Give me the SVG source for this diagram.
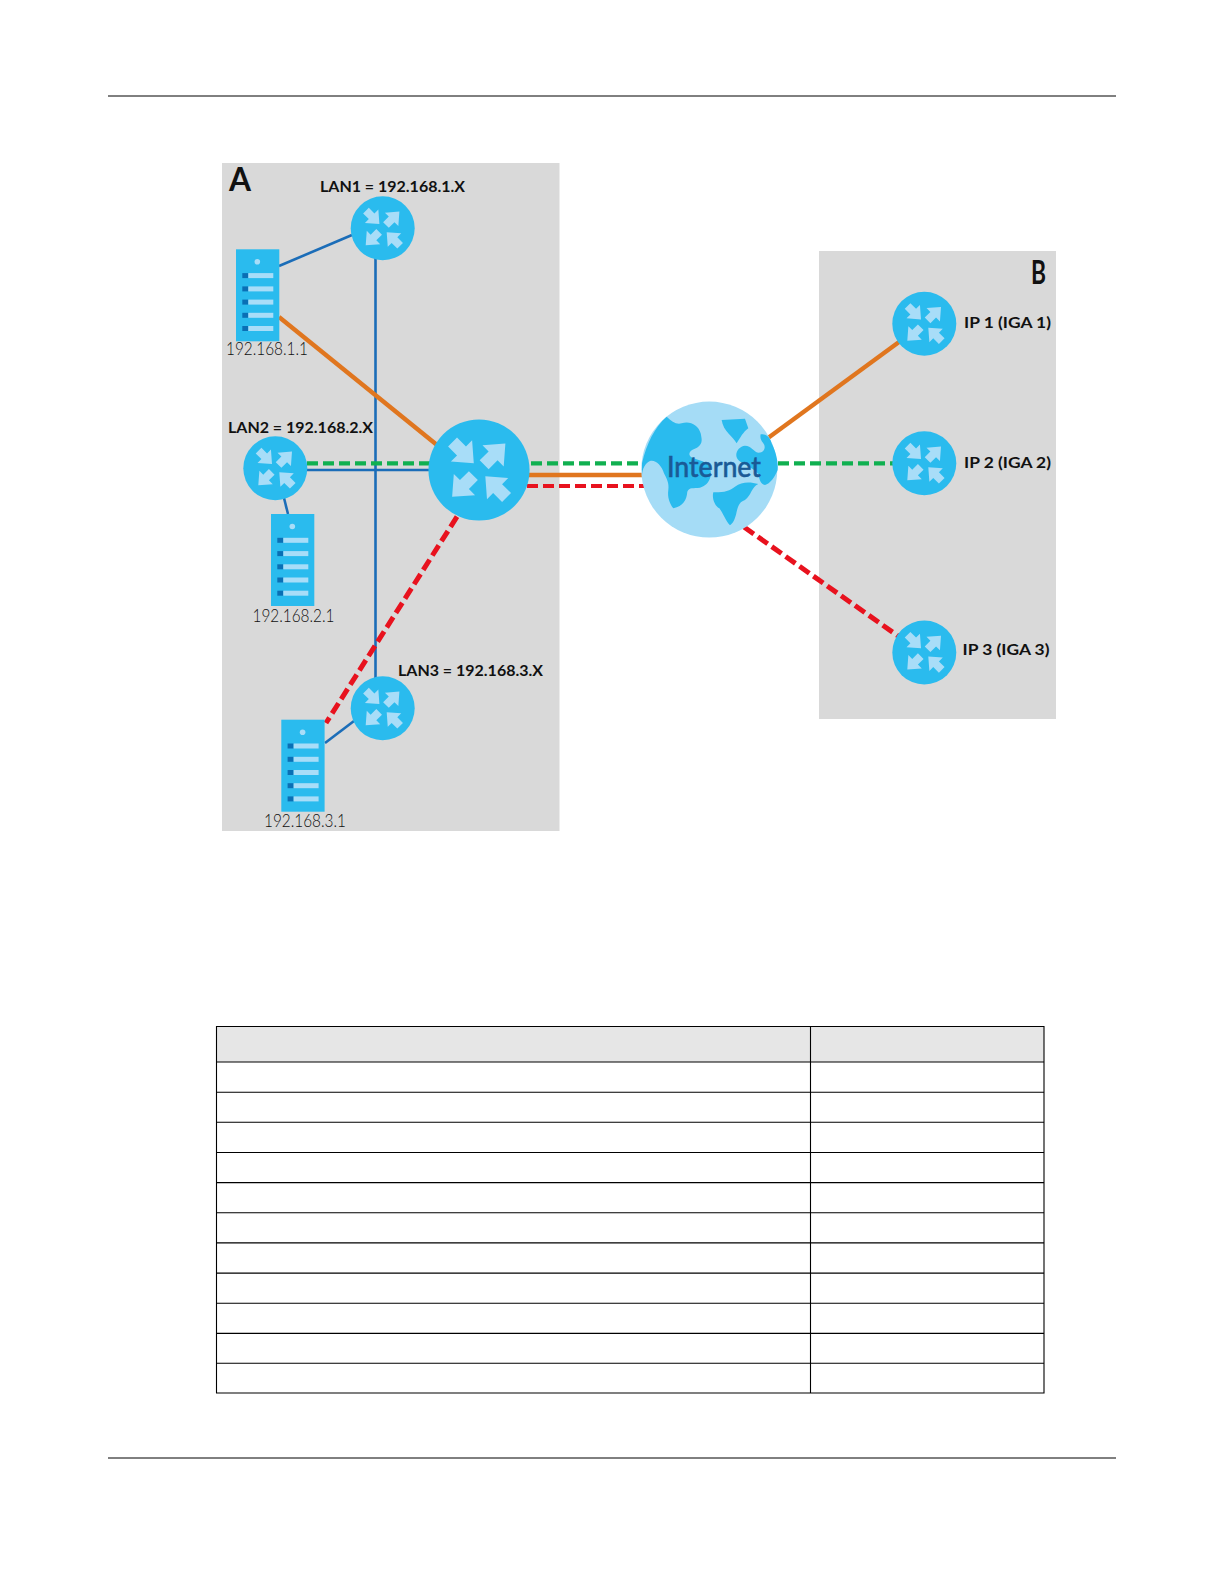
<svg xmlns="http://www.w3.org/2000/svg" xmlns:xlink="http://www.w3.org/1999/xlink" width="1224" height="1584" viewBox="0 0 1224 1584">
<style>
.panel{fill:#d9d9d9}
.rule{stroke:#000;stroke-width:1;fill:none}
.tb{stroke:#000;stroke-width:1.1;fill:none}
.blue{stroke:#1b6db8;stroke-width:2.6;fill:none}
.orange{stroke:#e0761f;stroke-width:4.4;fill:none}
.green{stroke:#10b050;stroke-width:4.2;stroke-dasharray:11 5;fill:none}
.red{stroke:#e8121e;stroke-width:4.2;stroke-dasharray:11 5;fill:none}
.redd{stroke:#e8121e;stroke-width:5;stroke-dasharray:12 5;fill:none}
.body{fill:#2abbee}
.arrow{fill:#a8ddf8}
.land{fill:#2abbee}
.lab{font-family:"Lato","Liberation Sans",sans-serif;font-weight:700;font-size:15px;fill:#111}
.ip{font-family:"Lato","Liberation Sans",sans-serif;font-weight:300;font-size:17px;fill:#111}
.big{font-family:"Lato","Liberation Sans",sans-serif;font-weight:700;font-size:33px;fill:#111}
.net{font-family:"Lato","Liberation Sans",sans-serif;font-weight:500;font-size:28px;fill:#1a5a96;stroke:#1a5a96;stroke-width:.5}
</style>
<defs>
<polygon id="ar" points="0,0 -11,-9.5 -11,-4 -19,-4 -19,4 -11,4 -11,9.5"/>
<g id="router">
<circle r="32" class="body"/>
<use xlink:href="#ar" class="arrow" transform="translate(-3.3,-4.3) rotate(45)"/>
<use xlink:href="#ar" class="arrow" transform="translate(16.7,-16.7) rotate(-45)"/>
<use xlink:href="#ar" class="arrow" transform="translate(-17,17) rotate(135)"/>
<use xlink:href="#ar" class="arrow" transform="translate(4,4) rotate(225)"/>
</g>
<g id="srvrow"><rect x="6.3" y="-2.5" width="6" height="5" fill="#0a6fb5"/><rect x="12.3" y="-2.5" width="25" height="5" fill="#a8ddf8"/></g>
<g id="server">
<rect width="43.3" height="92" class="body"/>
<circle cx="21.3" cy="12.5" r="2.8" fill="#a8ddf8"/>
<use xlink:href="#srvrow" y="26.3"/><use xlink:href="#srvrow" y="39.6"/><use xlink:href="#srvrow" y="52.8"/><use xlink:href="#srvrow" y="66"/><use xlink:href="#srvrow" y="79.2"/>
</g>
</defs>
<rect width="1224" height="1584" fill="#fff"/>
<g id="page-rules">
<line class="rule" x1="108" y1="96" x2="1116" y2="96"/>
<line class="rule" x1="108" y1="1458" x2="1116" y2="1458"/>
</g>
<g id="panels">
<rect class="panel" x="222" y="163" width="337.5" height="668"/>
<rect class="panel" x="819" y="251" width="237" height="468"/>
</g>
<g id="connectors">
<line class="blue" x1="279" y1="266" x2="352" y2="235"/>
<line class="blue" x1="375.5" y1="255" x2="375.5" y2="678"/>
<line class="blue" x1="300" y1="470" x2="435" y2="470"/>
<line class="blue" x1="284" y1="498" x2="288" y2="514"/>
<line class="blue" x1="325" y1="743" x2="354" y2="721"/>
<line class="orange" x1="279" y1="317" x2="437" y2="445"/>
<line class="green" x1="307" y1="463.3" x2="645" y2="463.3"/>
<line class="orange" x1="525" y1="475" x2="645" y2="475"/>
<line class="red" x1="527" y1="486" x2="645" y2="486"/>
<path class="redd" d="M457,516.7 L326,723"/>
<line class="orange" x1="768" y1="438" x2="899" y2="342"/>
<line class="green" x1="778" y1="463.3" x2="895" y2="463.3"/>
<line class="redd" x1="744" y1="527" x2="898" y2="636"/>
</g>
<g id="router-lan1"><use xlink:href="#router" x="382.7" y="228.3"/><text class="lab" x="320" y="192" textLength="145" lengthAdjust="spacingAndGlyphs">LAN1 = 192.168.1.X</text></g>
<g id="router-lan2"><use xlink:href="#router" x="275.3" y="468.3"/><text class="lab" x="228" y="433" textLength="145" lengthAdjust="spacingAndGlyphs">LAN2 = 192.168.2.X</text></g>
<g id="router-lan3"><use xlink:href="#router" x="382.7" y="708.3"/><text class="lab" x="398" y="676" textLength="145" lengthAdjust="spacingAndGlyphs">LAN3 = 192.168.3.X</text></g>
<g id="server-1"><use xlink:href="#server" x="236" y="249.3"/><text class="ip" x="226" y="355" textLength="82" lengthAdjust="spacingAndGlyphs">192.168.1.1</text></g>
<g id="server-2"><use xlink:href="#server" x="271" y="514"/><text class="ip" x="252.5" y="622" textLength="82" lengthAdjust="spacingAndGlyphs">192.168.2.1</text></g>
<g id="server-3"><use xlink:href="#server" x="281.3" y="719.7"/><text class="ip" x="264" y="827" textLength="82" lengthAdjust="spacingAndGlyphs">192.168.3.1</text></g>
<g id="router-main"><use xlink:href="#router" transform="translate(479,470) scale(1.58)"/></g>
<g id="internet">
<circle cx="709.3" cy="469.6" r="68" fill="#a5dcf6"/>
<g transform="translate(510,380) scale(.3333)" class="land">
<path d="M396,250 C410,190 435,140 470,110 C485,125 500,135 515,130 C540,122 565,135 572,160 C575,175 578,185 570,195 C560,210 540,205 538,222 C540,240 575,235 595,255 C612,280 600,315 570,323 C550,326 538,320 532,335 C530,360 520,378 490,385 C478,370 472,350 475,330 C478,310 470,295 462,280 C455,255 435,238 420,243 C405,250 398,265 396,285 Z"/>
<path d="M635,120 L705,116 L715,145 C700,155 690,175 680,190 C670,170 640,155 635,120Z"/>
<path d="M752,163 C770,160 782,175 785,190 C800,220 805,250 803,270 C795,290 780,312 765,315 C750,312 748,295 745,282 C730,262 700,255 685,240 C670,225 685,198 705,197 C725,197 730,215 745,218 C765,218 768,200 760,190 C752,180 750,172 752,163Z"/>
<path d="M610,337 C640,338 660,332 675,320 C695,305 720,305 745,312 C725,320 725,345 705,360 C690,365 685,375 680,395 C675,420 668,430 660,436 C645,420 640,400 628,385 C615,378 605,355 610,337Z"/>
</g>
<text class="net" x="667" y="477" textLength="94" lengthAdjust="spacingAndGlyphs">Internet</text>
</g>
<g id="router-ip1"><use xlink:href="#router" x="924.3" y="323.7"/><text class="lab" x="964" y="328" textLength="87" lengthAdjust="spacingAndGlyphs">IP 1 (IGA 1)</text></g>
<g id="router-ip2"><use xlink:href="#router" x="924.3" y="463.3"/><text class="lab" x="964" y="468" textLength="87" lengthAdjust="spacingAndGlyphs">IP 2 (IGA 2)</text></g>
<g id="router-ip3"><use xlink:href="#router" x="924.3" y="652.5"/><text class="lab" x="962.5" y="655" textLength="87" lengthAdjust="spacingAndGlyphs">IP 3 (IGA 3)</text></g>
<text id="label-a" class="big" x="229" y="191" textLength="22" lengthAdjust="spacingAndGlyphs">A</text>
<text id="label-b" class="big" x="1031" y="284" textLength="15" lengthAdjust="spacingAndGlyphs">B</text>
<g id="table">
<rect x="216.5" y="1026.5" width="827.5" height="35.5" fill="#e6e6e6"/>
<path class="tb" d="M216.5,1026.5H1044V1393H216.5Z M810.5,1026.5V1393 M216.5,1062H1044 M216.5,1092.2H1044 M216.5,1122.3H1044 M216.5,1152.5H1044 M216.5,1182.6H1044 M216.5,1212.8H1044 M216.5,1242.9H1044 M216.5,1273.1H1044 M216.5,1303.2H1044 M216.5,1333.4H1044 M216.5,1363.2H1044"/>
</g>
</svg>
